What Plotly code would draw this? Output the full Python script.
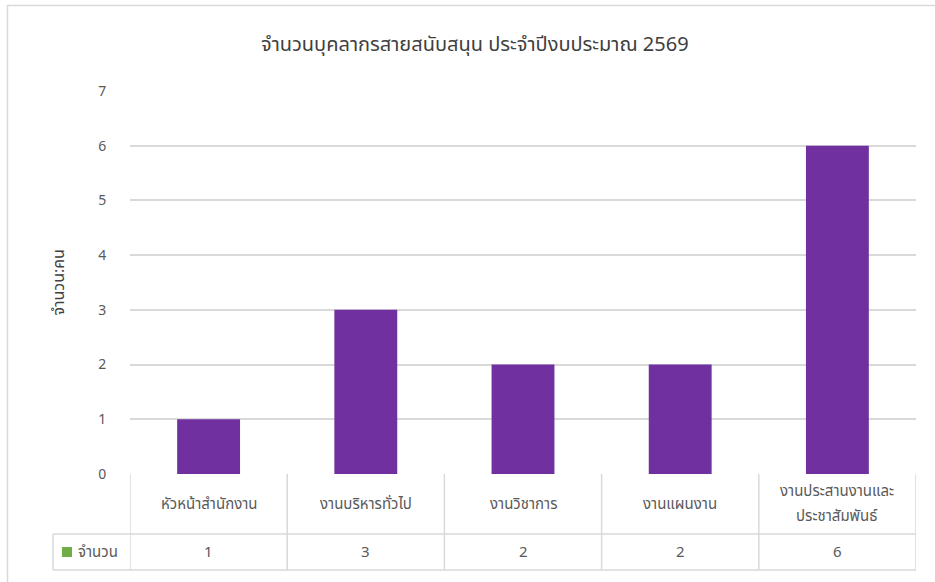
import plotly.graph_objects as go

categories = ["หัวหน้าสำนักงาน", "งานบริหารทั่วไป", "งานวิชาการ", "งานแผนงาน", "งานประสานงานและ<br>ประชาสัมพันธ์"]
values = [1, 3, 2, 2, 6]
series_name = "จำนวน"
title_text = "จำนวนบุคลากรสายสนับสนุน ประจำปีงบประมาณ 2569"
y_title = "จำนวน:คน"
y_ticks = [0, 1, 2, 3, 4, 5, 6, 7]

W, H = 935, 582
L, R, T, B = 130, 916, 91, 474
pw, ph = R - L, B - T

def px_x(p):
    return (p - L) / pw

def px_y(p):
    return (B - p) / ph

FONT = "Tahoma, 'Noto Sans Thai', 'Leelawadee UI', sans-serif"
TXT = "#595959"
GRID = "#d9d9d9"

xs = list(range(len(categories)))
fig = go.Figure(go.Bar(x=xs, y=values, width=0.4, marker=dict(color="#7030A0", line=dict(width=0)),
                       name=series_name, showlegend=False, hoverinfo="y"))

shapes = []
annotations = []
row1 = px_y(534)
row2 = px_y(570)
leg_left = px_x(53)
for i in range(len(categories) + 1):
    shapes.append(dict(type="line", xref="x", yref="paper", x0=i - 0.5, x1=i - 0.5, y0=0, y1=row2,
                       line=dict(color=GRID, width=1.5)))
shapes.append(dict(type="line", xref="paper", yref="paper", x0=leg_left, x1=leg_left, y0=row1, y1=row2,
                   line=dict(color=GRID, width=1.5)))
shapes.append(dict(type="line", xref="paper", yref="paper", x0=leg_left, x1=1, y0=row1, y1=row1,
                   line=dict(color=GRID, width=1.5)))
shapes.append(dict(type="line", xref="paper", yref="paper", x0=leg_left, x1=1, y0=row2, y1=row2,
                   line=dict(color=GRID, width=1.5)))
shapes.append(dict(type="rect", xref="paper", yref="paper", x0=px_x(62), x1=px_x(72), y0=px_y(557), y1=px_y(547),
                   fillcolor="#70AD47", line=dict(width=0)))
shapes.append(dict(type="rect", xref="paper", yref="paper", x0=px_x(7.5), x1=px_x(960), y0=px_y(600), y1=px_y(5.5),
                   line=dict(color=GRID, width=1.5), fillcolor="rgba(0,0,0,0)", layer="below"))

LINE_GAP = 25
for i, (c, v) in enumerate(zip(categories, values)):
    lines = c.split("<br>")
    n = len(lines)
    for k, ln in enumerate(lines):
        ypix = 504 + (k - (n - 1) / 2) * LINE_GAP
        annotations.append(dict(x=i, y=px_y(ypix), xref="x", yref="paper", text=ln, showarrow=False,
                                xanchor="center", yanchor="middle",
                                font=dict(size=15, color=TXT, family=FONT), align="center"))
    annotations.append(dict(x=i, y=(row1 + row2) / 2, xref="x", yref="paper", text=str(v), showarrow=False,
                            xanchor="center", yanchor="middle",
                            font=dict(size=15, color=TXT, family=FONT)))
annotations.append(dict(x=px_x(76), y=(row1 + row2) / 2, xref="paper", yref="paper", text=series_name,
                        showarrow=False, xanchor="left", yanchor="middle",
                        font=dict(size=15, color=TXT, family=FONT)))
annotations.append(dict(x=px_x(58), y=0.5, xref="paper", yref="paper", text=y_title, textangle=-90,
                        showarrow=False, xanchor="center", yanchor="middle",
                        font=dict(size=16, color="#404040", family=FONT)))
annotations.append(dict(x=px_x(475), y=px_y(45), xref="paper", yref="paper", text=title_text,
                        showarrow=False, xanchor="center", yanchor="middle",
                        font=dict(size=20, color="#404040", family=FONT)))

fig.update_layout(
    width=W, height=H, autosize=False,
    margin=dict(l=L, r=W - R, t=T, b=H - B, pad=0),
    paper_bgcolor="white", plot_bgcolor="white",
    font=dict(family=FONT, color=TXT, size=14),
    xaxis=dict(range=[-0.5, len(categories) - 0.5], showticklabels=False, showgrid=False, zeroline=False,
               showline=False, ticks="", fixedrange=True),
    yaxis=dict(range=[0, 7], tickvals=y_ticks, showgrid=True, gridcolor=GRID, gridwidth=1.5,
               zeroline=False, showline=False, ticks="outside", ticklen=20, tickcolor="rgba(0,0,0,0)",
               tickfont=dict(size=14, color=TXT, family=FONT)),
    shapes=shapes, annotations=annotations, bargap=0.6,
)
fig.write_html("out.html", config={"displayModeBar": False},
               post_script="document.body.style.margin='0';document.body.style.overflow='hidden';")
